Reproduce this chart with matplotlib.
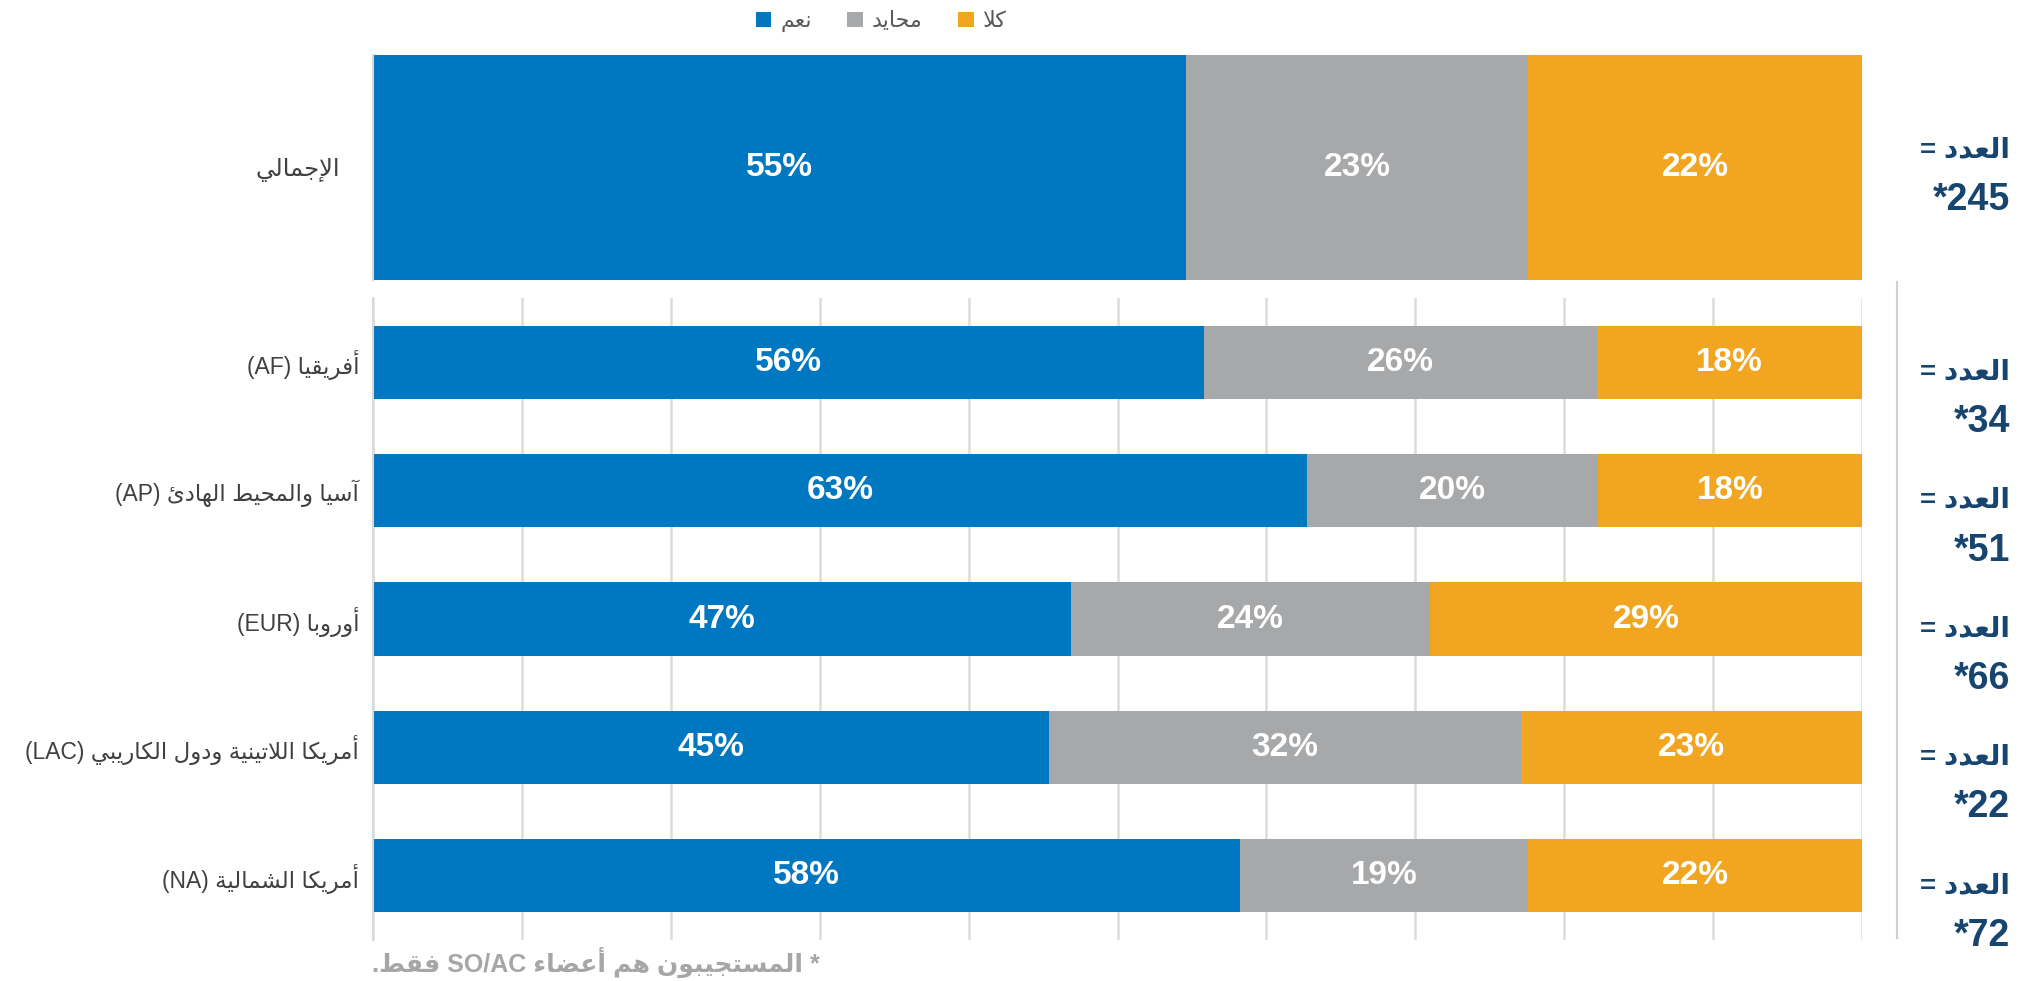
import matplotlib
matplotlib.use('Agg')
import matplotlib.pyplot as plt
from matplotlib.lines import Line2D

# Arabic contextual forms (presentation forms B): start codepoint, number of forms
FORMS = {'ء': (0xFE80, 1), 'آ': (0xFE81, 2), 'أ': (0xFE83, 2), 'ؤ': (0xFE85, 2),
         'إ': (0xFE87, 2), 'ئ': (0xFE89, 4), 'ا': (0xFE8D, 2), 'ب': (0xFE8F, 4),
         'ة': (0xFE93, 2), 'ت': (0xFE95, 4), 'ث': (0xFE99, 4), 'ج': (0xFE9D, 4),
         'ح': (0xFEA1, 4), 'خ': (0xFEA5, 4), 'د': (0xFEA9, 2), 'ذ': (0xFEAB, 2),
         'ر': (0xFEAD, 2), 'ز': (0xFEAF, 2), 'س': (0xFEB1, 4), 'ش': (0xFEB5, 4),
         'ص': (0xFEB9, 4), 'ض': (0xFEBD, 4), 'ط': (0xFEC1, 4), 'ظ': (0xFEC5, 4),
         'ع': (0xFEC9, 4), 'غ': (0xFECD, 4), 'ف': (0xFED1, 4), 'ق': (0xFED5, 4),
         'ك': (0xFED9, 4), 'ل': (0xFEDD, 4), 'م': (0xFEE1, 4), 'ن': (0xFEE5, 4),
         'ه': (0xFEE9, 4), 'و': (0xFEED, 2), 'ى': (0xFEEF, 2), 'ي': (0xFEF1, 4)}
LAM_ALEF = {'آ': 0xFEF5, 'أ': 0xFEF7, 'إ': 0xFEF9, 'ا': 0xFEFB}


def shape_word(word):
    letters = []
    i = 0
    while i < len(word):
        c = word[i]
        if c == 'ل' and i + 1 < len(word) and word[i + 1] in LAM_ALEF:
            letters.append(('LA', word[i + 1]))
            i += 2
        else:
            letters.append((c, None))
            i += 1

    def kind(t):
        if t[0] == 'LA':
            return 2
        return FORMS.get(t[0], (0, 0))[1]

    out = []
    for k, t in enumerate(letters):
        n = kind(t)
        prev_j = k > 0 and kind(letters[k - 1]) == 4 and n >= 2
        next_j = n == 4 and k + 1 < len(letters) and kind(letters[k + 1]) >= 2
        if t[0] == 'LA':
            out.append(chr(LAM_ALEF[t[1]] + (1 if prev_j else 0)))
        elif n == 0:
            out.append(t[0])
        else:
            f = 3 if (prev_j and next_j) else 1 if prev_j else 2 if next_j else 0
            out.append(chr(FORMS[t[0]][0] + f))
    return ''.join(out)


def ar(s):
    # rough right-to-left layout: shape arabic words, reverse word order
    toks = []
    for t in s.split(' '):
        if any(c in FORMS for c in t):
            toks.append(shape_word(t)[::-1])
        else:
            toks.append(t)
    return ' '.join(toks[::-1])


# data
total_label = 'الإجمالي'
total_vals = [54.6, 23.0, 22.4]
total_n = 245

regions = ['أفريقيا (AF)', 'آسيا والمحيط الهادئ (AP)', 'أوروبا (EUR)',
           'أمريكا اللاتينية ودول الكاريبي (LAC)', 'أمريكا الشمالية (NA)']
yes = [55.8, 62.7, 46.9, 45.4, 58.2]
neutral = [26.4, 19.6, 24.1, 31.7, 19.4]
no = [17.8, 17.7, 29.0, 22.9, 22.4]
counts = [34, 51, 66, 22, 72]

series_names = ['نعم', 'محايد', 'كلا']
colors = ['#0078C1', '#A7A8AA', '#F1A521']
n_label = 'العدد ='
footnote = '* المستجيبون هم أعضاء SO/AC فقط.'

LAT = ['Liberation Sans', 'DejaVu Sans']
NAVY = '#17456F'
W, H = 2041, 981

fig = plt.figure(figsize=(W / 100, H / 100), dpi=100)
ax_top = fig.add_axes([373 / W, 1 - 280 / H, 1489 / W, 225 / H])
ax = fig.add_axes([373 / W, 1 - 940 / H, 1489 / W, 642 / H])

# top panel (overall)
left = 0
handles = []
for v, c, name in zip(total_vals, colors, series_names):
    b = ax_top.barh([0], [v], left=[left], height=1.0, color=c, label=ar(name))
    handles.append(b)
    ax_top.text(left + v / 2, 0, f'{round(v)}%', ha='center', va='center',
                color='white', fontsize=24, fontweight='bold', family=LAT)
    left += v
ax_top.set_xlim(0, 100)
ax_top.set_ylim(-0.5, 0.5)
ax_top.set_xticks([])
ax_top.set_yticks([0])
ax_top.set_yticklabels([ar(total_label)], fontsize=17.5, color='#404040', family=LAT)
ax_top.tick_params(axis='y', length=0, pad=24)
for s in ['top', 'right', 'bottom']:
    ax_top.spines[s].set_visible(False)
ax_top.spines['left'].set_color('#D9D9D9')
ax_top.spines['left'].set_linewidth(1.5)

# bottom panel (regions)
ypos = list(range(len(regions)))
lefts = [0] * len(regions)
for vals, c in zip([yes, neutral, no], colors):
    ax.barh(ypos, vals, left=lefts, height=0.57, color=c, zorder=2)
    for y, l, v in zip(ypos, lefts, vals):
        ax.text(l + v / 2, y, f'{round(v)}%', ha='center', va='center',
                color='white', fontsize=24, fontweight='bold', family=LAT, zorder=3)
    lefts = [l + v for l, v in zip(lefts, vals)]
ax.set_xlim(0, 100)
ax.set_ylim(len(regions) - 0.5, -0.5)
ax.set_xticks(range(0, 101, 10))
ax.set_xticklabels([])
ax.tick_params(axis='x', length=0)
ax.grid(axis='x', color='#DCDCDC', linewidth=1.8, zorder=0)
ax.set_yticks(ypos)
ax.set_yticklabels([ar(r) for r in regions], fontsize=16.5, color='#404040', family=LAT)
ax.tick_params(axis='y', length=0, pad=10)
for s in ['top', 'right', 'bottom']:
    ax.spines[s].set_visible(False)
ax.spines['left'].set_color('#D9D9D9')
ax.spines['left'].set_linewidth(1.5)

# separator line on the right
fig.add_artist(Line2D([1897 / W, 1897 / W], [1 - 938 / H, 1 - 282 / H],
                      color='#D0D0D0', linewidth=1.5))

# N labels on the right
ax_top.annotate(ar(n_label), xy=(2010 / W, 0), xycoords=('figure fraction', 'data'),
                xytext=(0, 17), textcoords='offset pixels', ha='right', va='center',
                fontsize=20, fontweight='bold', color=NAVY, family=LAT)
ax_top.annotate(f'*{total_n}', xy=(2010 / W, 0), xycoords=('figure fraction', 'data'),
                xytext=(0, -32), textcoords='offset pixels', ha='right', va='center',
                fontsize=27, fontweight='bold', color=NAVY, family=LAT)
for y, n in zip(ypos, counts):
    ax.annotate(ar(n_label), xy=(2010 / W, y), xycoords=('figure fraction', 'data'),
                xytext=(0, -10), textcoords='offset pixels', ha='right', va='center',
                fontsize=20, fontweight='bold', color=NAVY, family=LAT)
    ax.annotate(f'*{n}', xy=(2010 / W, y), xycoords=('figure fraction', 'data'),
                xytext=(0, -60), textcoords='offset pixels', ha='right', va='center',
                fontsize=27, fontweight='bold', color=NAVY, family=LAT)

# legend
leg = fig.legend(handles=handles, loc='center', bbox_to_anchor=(881 / W, 1 - 22 / H),
                 ncol=3, frameon=False, handlelength=0.7, handleheight=0.7,
                 handletextpad=0.4, columnspacing=1.6,
                 prop={'family': LAT, 'size': 16})
for t in leg.get_texts():
    t.set_color('#595959')

fig.text(372 / W, 1 - 962 / H, ar(footnote), ha='left', va='center', fontsize=18,
         fontweight='bold', color='#A6A6A6', family=LAT)

fig.savefig('out.png', dpi=100)
